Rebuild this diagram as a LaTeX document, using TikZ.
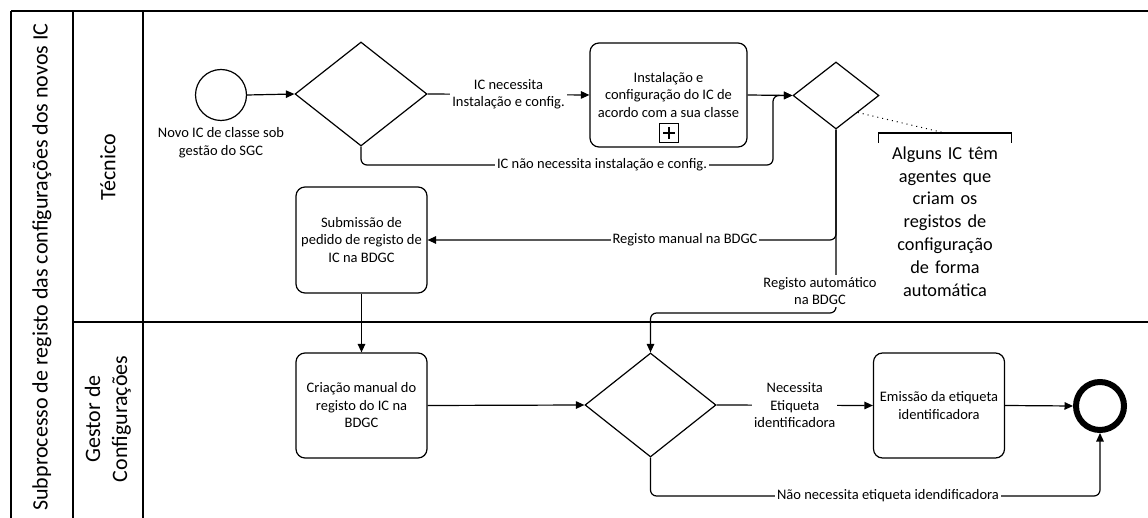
\documentclass[tikz,border=0pt]{standalone}
\usepackage{fontspec}
\setmainfont{Carlito}
\usetikzlibrary{arrows.meta,shapes.geometric,calc}

\newcommand{\lblfont}{\fontsize{14.5}{17.5}\selectfont}
\newcommand{\annfont}{\fontsize{18.3}{22.8}\selectfont}
\newcommand{\lanefont}{\fontsize{22}{27}\selectfont}

\begin{document}
\begin{tikzpicture}[x=1pt,y=-1pt,line width=1.2pt,
  flow/.style={draw,line width=1.2pt,-{Triangle[length=8.5pt,width=7.5pt]}},
  task/.style={draw,rectangle,rounded corners=9pt,line width=1.2pt,minimum width=131pt,
    minimum height=105pt,align=center,font=\lblfont,inner sep=0pt},
  gate/.style={draw,diamond,line width=1.2pt,inner sep=0pt},
  lbl/.style={fill=white,inner sep=2pt,align=center,font=\lblfont},
  lane/.style={rotate=90,align=center,font=\lanefont},
]
% canvas
\useasboundingbox (0,0) rectangle (1148,518);
\fill[white] (0,0) rectangle (1148,518);

% pool and lanes
\draw (11,11) -- (1148,11);
\draw (11,11) -- (11,518);
\draw (73,11) -- (73,518);
\draw (143,11) -- (143,518);
\draw (73,322) -- (1148,322);
\node[lane] (pool) at (42,267) {Subprocesso de registo das configurações dos novos IC};
\node[lane] (laneA) at (108,167) {Técnico};
\node[lane] (laneB) at (108,419) {Gestor de\\Configurações};

% events, tasks and gateways
\node[draw,circle,minimum size=51pt,inner sep=0pt] (start) at (221,95) {};
\node[align=center,font=\lblfont] (startlbl) at (221,142.5) {Novo IC de classe sob\\gestão do SGC};
\node[gate,minimum width=132pt,minimum height=104pt] (gw1) at (361,94) {};
\node[task,minimum width=157pt,minimum height=104pt] (task1) at (668.5,95)
  {Instalação e\\configuração do IC de\\acordo com a sua classe};
\node[draw,rectangle,minimum size=19pt,inner sep=0pt] (mk) at (669,133) {};
\draw[line width=2.6pt] ($(mk.center)+(-6,0)$) -- ($(mk.center)+(6,0)$);
\draw[line width=2.6pt] ($(mk.center)+(0,-6)$) -- ($(mk.center)+(0,6)$);
\node[gate,minimum width=86pt,minimum height=67pt] (gw2) at (836,95.5) {};
\node[task,minimum height=106pt] (task2) at (361.5,240)
  {Submissão de\\pedido de registo de\\IC na BDGC};
\node[task] (task3) at (361.5,405.5) {Criação manual do\\registo do IC na\\BDGC};
\node[gate,minimum width=131pt,minimum height=104pt] (gw3) at (650.5,405) {};
\node[task] (task4) at (939,405.5) {Emissão da etiqueta\\identificadora};
\node[draw,circle,minimum size=48pt,line width=6pt,inner sep=0pt] (end) at (1100,406) {};

% bend points
\coordinate (c1) at (773,165);
\coordinate (c2) at (836,313);
\coordinate (c3) at (1100,496);

% sequence flows
\draw[flow] (start.east) -- (gw1.west);
\draw[flow] (gw1.east) -- node[lbl] (l1) {IC necessita\\Instalação e config.} (task1.west);
\draw[flow,rounded corners=6pt] (gw1.south) |- (c1) |- (gw2.west);
\draw[flow] (task1.east) -- (gw2.west);
\draw[flow,rounded corners=6pt] (gw2.south) |- (task2.east);
\draw[flow,rounded corners=6pt] (gw2.south) -- (c2) -| (gw3.north);
\draw[flow] (task2.south) -- (task3.north);
\draw[flow] (task3.east) -- (gw3.west);
\draw[flow] (gw3.east) -- node[lbl] (l5) {Necessita\\Etiqueta\\identificadora} (task4.west);
\draw[flow] (task4.east) -- (end.west);
\draw[flow,rounded corners=6pt] (gw3.south) |- (c3) -- (end.south);

% flow labels
\node[lbl] (l2) at (602,165) {IC não necessita instalação e config.};
\node[lbl] (l3) at (685,240) {Registo manual na BDGC};
\node[lbl] (l4) at (820,291) {Registo automático\\na BDGC};
\node[lbl] (l6) at (888,496) {Não necessita etiqueta idendificadora};

% text annotation
\node[font=\annfont,align=center,anchor=north,inner sep=0pt,text width=132pt] (note) at (945,146)
  {Alguns IC têm\\agentes que\\criam os\\registos de\\configuração\\de forma\\automática};
\draw ($(note.north west)+(0,-3)$) -- ($(note.north west)+(0,-13)$)
  -- ($(note.north east)+(0,-13)$) -- ($(note.north east)+(0,-3)$);
\draw[line width=1pt,dash pattern=on 1pt off 4pt] ($(gw2.east)!0.5!(gw2.south)$) -- ($(note.north)+(0,-13)$);
\end{tikzpicture}
\end{document}
